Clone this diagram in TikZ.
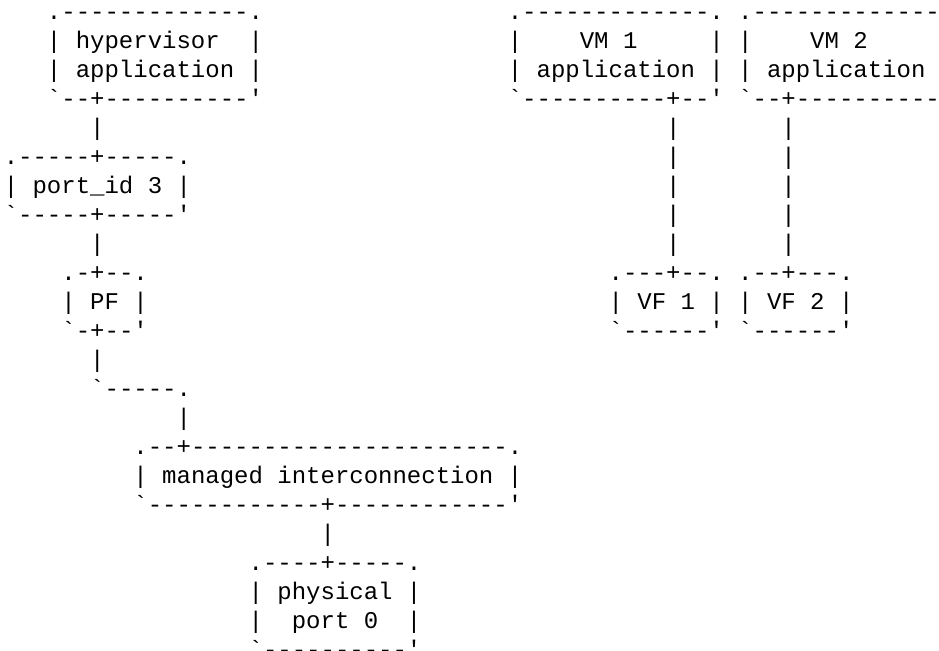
\documentclass[tikz,border=0pt]{standalone}
\usepackage{fontspec}
\setmonofont{Liberation Mono}

\tikzset{
	ascii/.style={anchor=base west, inner sep=0pt, outer sep=0pt,
		font=\fontsize{12pt}{14.5pt}\ttfamily\selectfont}
}

\begin{document}
\begin{tikzpicture}[x=7.2pt,y=-14.5pt]

		\useasboundingbox (0pt,0pt) rectangle (469.5pt,-325.5pt);
		\clip (0pt,0pt) rectangle (469.5pt,-325.5pt);

		\begin{scope}[shift={(1.9pt,-10pt)}]

			% hypervisor
			\node[ascii] (hv0) at (3,0) {.-------------.};
			\node[ascii] (hv1) at (3,1) {|~hypervisor~~|};
			\node[ascii] (hv2) at (3,2) {|~application~|};
			\node[ascii] (hv3) at (3,3) {`--+----------'};
			\node[ascii] (hvl) at (6,4) {|};

			% VM 1
			\node[ascii] (vma0) at (35,0) {.-------------.};
			\node[ascii] (vma1) at (35,1) {|~~~~VM~1~~~~~|};
			\node[ascii] (vma2) at (35,2) {|~application~|};
			\node[ascii] (vma3) at (35,3) {`----------+--'};

			% VM 2
			\node[ascii] (vmb0) at (51,0) {.-------------.};
			\node[ascii] (vmb1) at (51,1) {|~~~~VM~2~~~~~|};
			\node[ascii] (vmb2) at (51,2) {|~application~|};
			\node[ascii] (vmb3) at (51,3) {`--+----------'};

			% VM links
			\node[ascii] (vmal4) at (46,4) {|};
			\node[ascii] (vmal5) at (46,5) {|};
			\node[ascii] (vmal6) at (46,6) {|};
			\node[ascii] (vmal7) at (46,7) {|};
			\node[ascii] (vmal8) at (46,8) {|};
			\node[ascii] (vmbl4) at (54,4) {|};
			\node[ascii] (vmbl5) at (54,5) {|};
			\node[ascii] (vmbl6) at (54,6) {|};
			\node[ascii] (vmbl7) at (54,7) {|};
			\node[ascii] (vmbl8) at (54,8) {|};

			% port_id
			\node[ascii] (pid0) at (0,5) {.-----+-----.};
			\node[ascii] (pid1) at (0,6) {|~port\_id~3~|};
			\node[ascii] (pid2) at (0,7) {`-----+-----'};
			\node[ascii] (pidl) at (6,8) {|};

			% PF
			\node[ascii] (pf0) at (4,9) {.-+--.};
			\node[ascii] (pf1) at (4,10) {|~PF~|};
			\node[ascii] (pf2) at (4,11) {`-+--'};
			\node[ascii] (pfl0) at (6,12) {|};
			\node[ascii] (pfl1) at (6,13) {`-----.};
			\node[ascii] (pfl2) at (12,14) {|};

			% VF 1, VF 2
			\node[ascii] (vfa0) at (42,9) {.---+--.};
			\node[ascii] (vfa1) at (42,10) {|~VF~1~|};
			\node[ascii] (vfa2) at (42,11) {`------'};
			\node[ascii] (vfb0) at (51,9) {.--+---.};
			\node[ascii] (vfb1) at (51,10) {|~VF~2~|};
			\node[ascii] (vfb2) at (51,11) {`------'};

			% managed interconnection
			\node[ascii] (mi0) at (9,15) {.--+----------------------.};
			\node[ascii] (mi1) at (9,16) {|~managed~interconnection~|};
			\node[ascii] (mi2) at (9,17) {`------------+------------'};
			\node[ascii] (mil) at (22,18) {|};

			% physical port
			\node[ascii] (ph0) at (17,19) {.----+-----.};
			\node[ascii] (ph1) at (17,20) {|~physical~|};
			\node[ascii] (ph2) at (17,21) {|~~port~0~~|};
			\node[ascii] (ph3) at (17,22) {`----------'};

		\end{scope}

		\end{tikzpicture}
\end{document}
